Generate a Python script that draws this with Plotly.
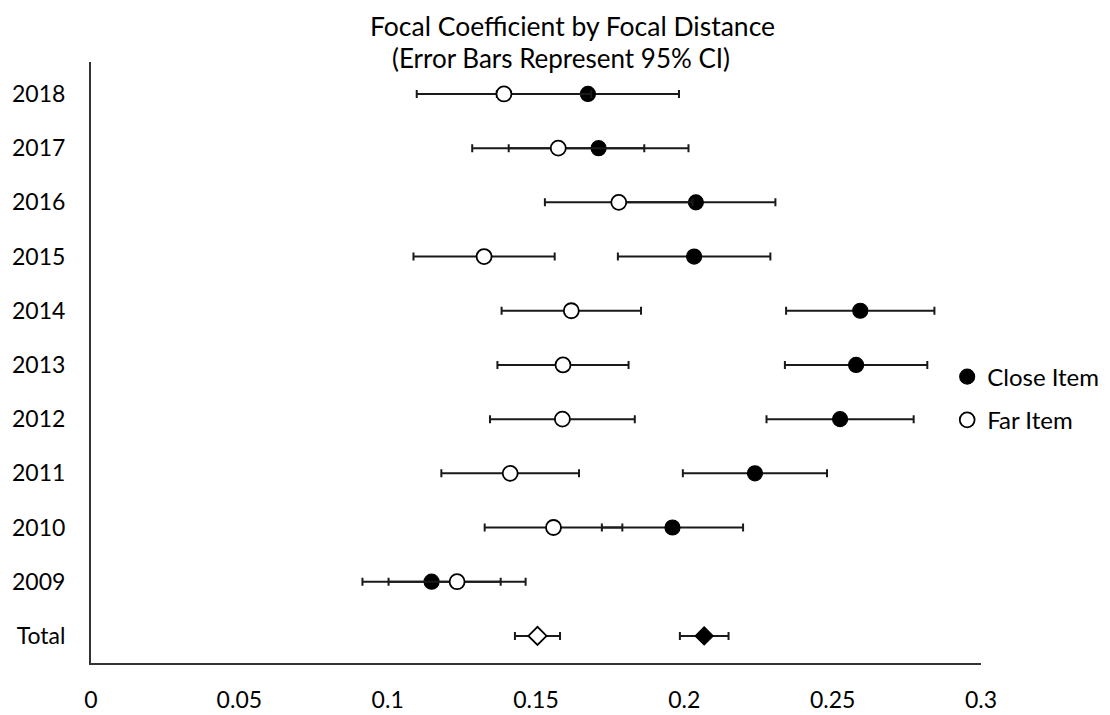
import plotly.graph_objects as go

# Categories, top to bottom
categories = ["2018", "2017", "2016", "2015", "2014", "2013", "2012", "2011", "2010", "2009", "Total"]

close_vals = [0.1675, 0.1711, 0.2039, 0.2033, 0.2593, 0.2579, 0.2525, 0.2238, 0.1960, 0.1148, 0.2067]
close_ci = [0.0307, 0.0303, 0.0268, 0.0257, 0.0250, 0.0240, 0.0248, 0.0243, 0.0238, 0.0233, 0.0082]

far_vals = [0.1392, 0.1575, 0.1779, 0.1325, 0.1619, 0.1591, 0.1589, 0.1413, 0.1559, 0.1234, 0.1505]
far_ci = [0.0294, 0.0290, 0.0249, 0.0238, 0.0235, 0.0221, 0.0244, 0.0232, 0.0232, 0.0231, 0.0076]

x_ticks = [0, 0.05, 0.1, 0.15, 0.2, 0.25, 0.3]
x_tick_labels = ["0", "0.05", "0.1", "0.15", "0.2", "0.25", "0.3"]

FONT = "Lato"
symbols = ["diamond" if c == "Total" else "circle" for c in categories]
sizes = [14 if c == "Total" else 15 for c in categories]

fig = go.Figure()
fig.add_trace(go.Scatter(
    x=close_vals, y=categories, mode="markers", name="Close Item",
    legendgroup="close",
    marker=dict(symbol=symbols, size=sizes, color="black", opacity=1,
                line=dict(color="black", width=1.2)),
    error_x=dict(type="data", array=close_ci, symmetric=True, color="#1a1a1a", thickness=2, width=4),
))
fig.add_trace(go.Scatter(
    x=far_vals, y=categories, mode="markers", name="Far Item",
    legendgroup="far",
    marker=dict(symbol=symbols, size=sizes, color="white", opacity=1,
                line=dict(color="black", width=1.8)),
    error_x=dict(type="data", array=far_ci, symmetric=True, color="#1a1a1a", thickness=2, width=4),
))

fig.add_annotation(text="Focal Coefficient by Focal Distance", xref="paper", yref="paper",
                   x=0.5407, y=1.0599, xanchor="center", yanchor="middle", showarrow=False,
                   font=dict(family=FONT, size=26.5, color="black"))
fig.add_annotation(text="(Error Bars Represent 95% CI)", xref="paper", yref="paper",
                   x=0.528, y=1.007, xanchor="center", yanchor="middle", showarrow=False,
                   font=dict(family=FONT, size=26, color="black"))

fig.update_layout(
    width=1102, height=707,
    margin=dict(l=83, r=128.5, t=54, b=52, autoexpand=False),
    paper_bgcolor="white", plot_bgcolor="white",
    font=dict(family=FONT, size=23, color="black"),
    showlegend=True,
    legend=dict(x=0.962, y=0.44, xanchor="left", yanchor="middle",
                font=dict(family=FONT, size=24, color="black"),
                tracegroupgap=9, itemwidth=30, bgcolor="rgba(0,0,0,0)"),
    xaxis=dict(range=[0, 0.3], tickvals=x_ticks, ticktext=x_tick_labels, automargin=False,
               showgrid=False, zeroline=False, showline=True, linecolor="#333333", linewidth=2,
               ticks="", ticklabelstandoff=15, tickfont=dict(family=FONT, size=23, color="black")),
    yaxis=dict(type="category", categoryorder="array", categoryarray=categories, automargin=False,
               range=[10.5, -0.59], showgrid=False, zeroline=False, showline=True,
               linecolor="#333333", linewidth=2, ticks="", ticklabelstandoff=19,
               tickfont=dict(family=FONT, size=23, color="black")),
)

fig.write_html("out.html")
